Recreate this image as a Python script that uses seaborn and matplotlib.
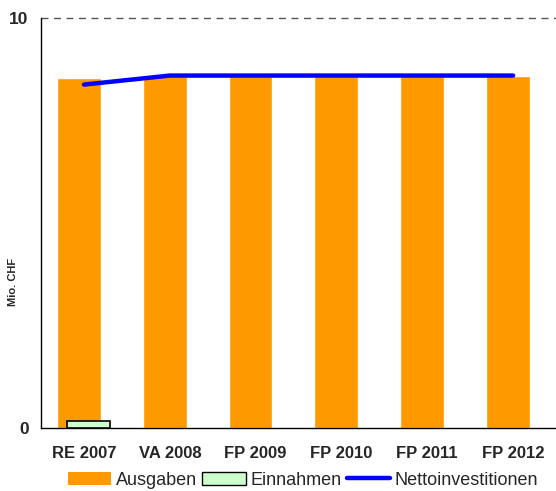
import numpy as np
import pandas as pd
import matplotlib.pyplot as plt
import seaborn as sns
from matplotlib.patches import Patch
from matplotlib.lines import Line2D

# ----------------------------------------
# Daten (Mio. CHF)
jahre = ['RE 2007', 'VA 2008', 'FP 2009', 'FP 2010', 'FP 2011', 'FP 2012']
ausgaben = [8.55, 8.6, 8.6, 8.6, 8.6, 8.6]
einnahmen = [0.17, 0.0, 0.0, 0.0, 0.0, 0.0]
netto = [8.38, 8.6, 8.6, 8.6, 8.6, 8.6]

df = pd.DataFrame({'jahr': jahre, 'ausgaben': ausgaben,
                   'einnahmen': einnahmen, 'netto': netto})

sns.set_style('white')
plt.rcParams['font.family'] = ['Liberation Sans', 'DejaVu Sans']

fig = plt.figure(figsize=(5.56, 4.91), dpi=100)
ax = fig.add_axes([0.074, 0.128, 0.926, 0.835])

pos = np.arange(len(jahre))
ax.bar(pos - 0.06, df['ausgaben'], width=0.51, color='#FF9900', zorder=2)
# Einnahmen: Rahmen nur bei Werten > 0
kanten = ['black' if v > 0 else 'none' for v in df['einnahmen']]
ax.bar(pos + 0.05, df['einnahmen'], width=0.5, color='#CCFFCC',
       edgecolor=kanten, linewidth=1.2, zorder=3)
sns.lineplot(x=pos, y=df['netto'], ax=ax, color='#0000FF', linewidth=3.2,
             solid_capstyle='round', zorder=4)

# Achsen
ax.set_ylim(0, 10)
ax.set_xlim(-0.5, 5.43)
ax.set_yticks([0, 10])
ax.set_yticklabels(['0', '10'], fontsize=12.5, fontweight='bold')
ax.set_xticks(pos)
ax.set_xticklabels(jahre, fontsize=12, fontweight='bold')
ax.set_xticks(np.arange(-0.5, 6, 1), minor=True)
ax.tick_params(axis='x', which='major', length=0, pad=13)
ax.tick_params(axis='x', which='minor', length=5, width=1, color='black', direction='out')
ax.tick_params(axis='y', length=5, width=1, color='black', direction='out', pad=4)
ax.axhline(10, color='#555555', linestyle=(0, (5, 4)), linewidth=1, zorder=1, clip_on=False)

ax.set_ylabel('Mio. CHF', fontsize=8, fontweight='bold')
ax.yaxis.set_label_coords(-0.045, 0.356)
ax.set_xlabel('')
for s in ['top', 'right']:
    ax.spines[s].set_visible(False)
for s in ['left', 'bottom']:
    ax.spines[s].set_color('black')
    ax.spines[s].set_linewidth(1)

# Legende
handles = [Patch(facecolor='#FF9900', edgecolor='none', label='Ausgaben'),
           Patch(facecolor='#CCFFCC', edgecolor='black', label='Einnahmen'),
           Line2D([0], [0], color='#0000FF', linewidth=3.2, label='Nettoinvestitionen')]
fig.legend(handles=handles, loc='center', bbox_to_anchor=(0.545, 0.022), ncol=3,
           frameon=False, fontsize=13, handlelength=2.4, handleheight=0.75,
           columnspacing=0.3, handletextpad=0.25, borderpad=0)

plt.savefig('out.png', dpi=100)
plt.close()
